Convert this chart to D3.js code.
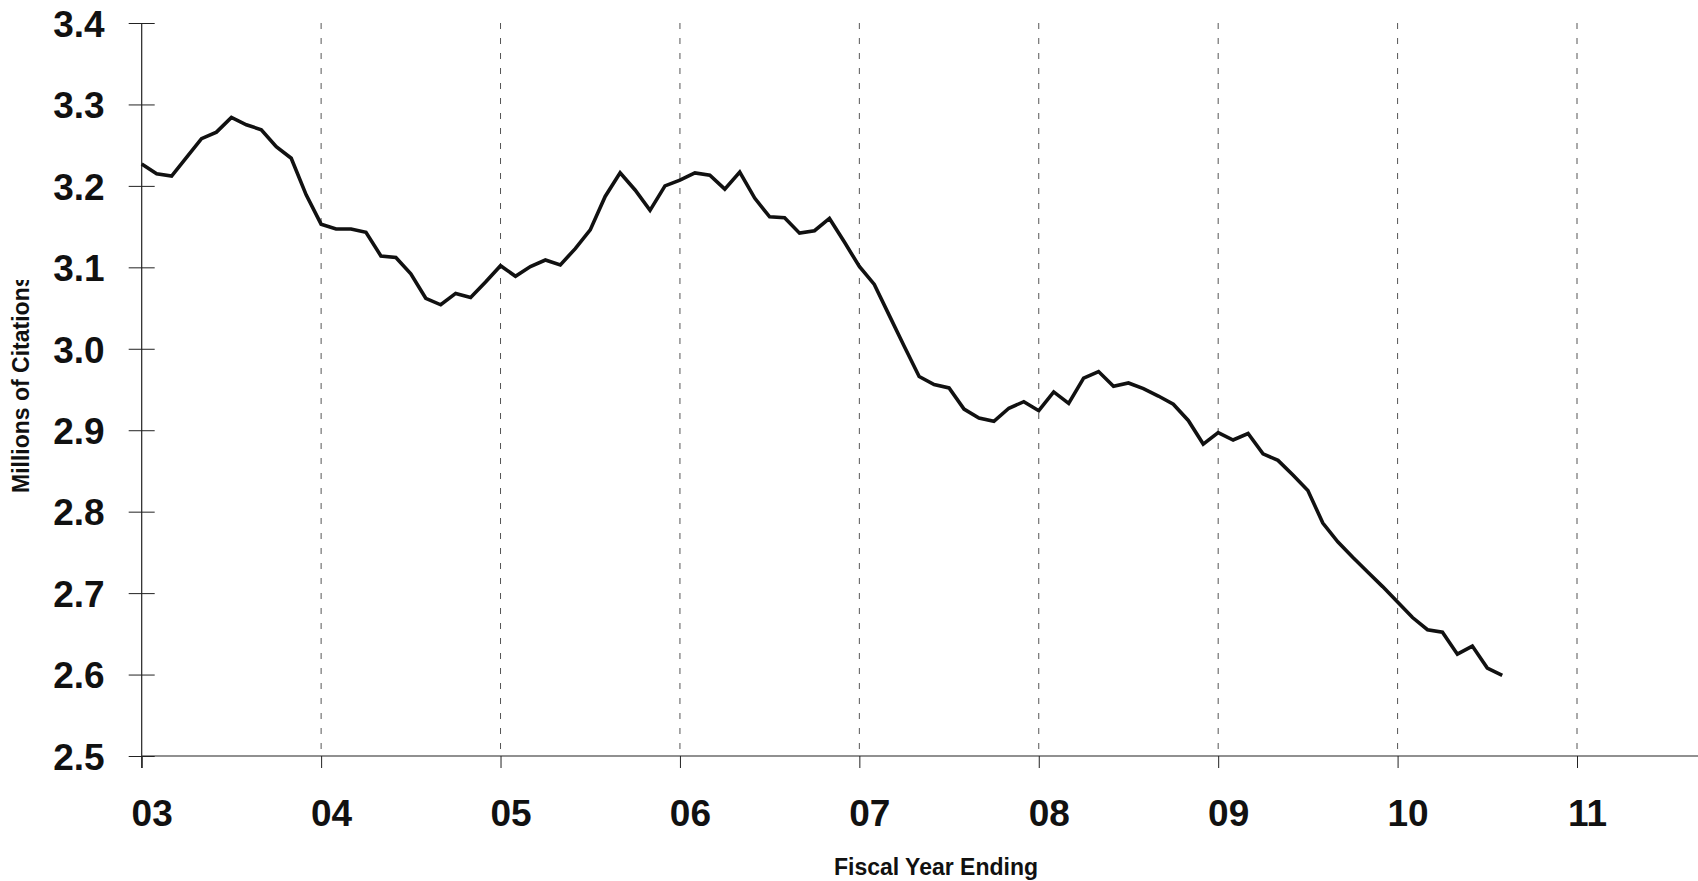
<!DOCTYPE html>
<html>
<head>
<meta charset="utf-8">
<script src="https://cdn.jsdelivr.net/npm/d3@7"></script>
<style>
  html, body { margin: 0; padding: 0; background: #fff; }
  svg { display: block; }
  text { font-family: "Liberation Sans", Arial, sans-serif; font-weight: bold; fill: #111; }
</style>
</head>
<body>
<svg id="chart" width="1698" height="881"></svg>
<script>
// ---- data (monthly, starting at fiscal year 03) ----
const startYear = 3;
const citations = [
  3.227, 3.215, 3.212, 3.235, 3.258, 3.266, 3.284, 3.275, 3.269, 3.248, 3.234, 3.189,
  3.153, 3.147, 3.147, 3.143, 3.114, 3.112, 3.092, 3.062, 3.054, 3.068, 3.063, 3.082,
  3.102, 3.089, 3.101, 3.109, 3.103, 3.123, 3.146, 3.187, 3.216, 3.195, 3.170, 3.200,
  3.207, 3.216, 3.213, 3.196, 3.217, 3.185, 3.162, 3.161, 3.142, 3.145, 3.160, 3.131,
  3.101, 3.079, 3.041, 3.003, 2.966, 2.956, 2.952, 2.926, 2.915, 2.911, 2.927, 2.935,
  2.924, 2.947, 2.933, 2.964, 2.972, 2.954, 2.958, 2.951, 2.942, 2.932, 2.912, 2.883,
  2.897, 2.888, 2.896, 2.871, 2.863, 2.845, 2.826, 2.786, 2.763, 2.744, 2.726, 2.708,
  2.689, 2.670, 2.655, 2.652, 2.625, 2.635, 2.608, 2.599
];
const xTicks = [3, 4, 5, 6, 7, 8, 9, 10, 11];
const xTickLabels = ["03", "04", "05", "06", "07", "08", "09", "10", "11"];
const yTicks = [2.5, 2.6, 2.7, 2.8, 2.9, 3.0, 3.1, 3.2, 3.3, 3.4];
const xTitle = "Fiscal Year Ending";
const yTitle = "Millions of Citations";

// ---- layout ----
const W = 1698, H = 881;
const svg = d3.select("#chart");
const x = d3.scaleLinear().domain([3, 11]).range([141.7, 1577]);
const y = d3.scaleLinear().domain([2.5, 3.4]).range([756, 23]);

const points = citations.map((v, i) => ({ t: startYear + i / 12, v }));

// vertical dashed grid lines
svg.append("g")
  .selectAll("line")
  .data(xTicks.filter(d => d > 3))
  .join("line")
  .attr("x1", d => x(d)).attr("x2", d => x(d))
  .attr("y1", y(3.4)).attr("y2", y(2.5))
  .attr("stroke", "#555")
  .attr("stroke-width", 1)
  .attr("stroke-dasharray", "6,9");

// x axis
const xAxis = svg.append("g")
  .attr("transform", `translate(0,${y(2.5)})`)
  .call(d3.axisBottom(x)
    .tickValues(xTicks)
    .tickFormat((d, i) => xTickLabels[i])
    .tickSizeInner(12)
    .tickSizeOuter(0));
xAxis.select(".domain").remove();
xAxis.selectAll(".tick line").attr("stroke", "#222").attr("stroke-width", 1);
xAxis.selectAll(".tick text")
  .attr("y", 70).attr("dy", 0).attr("dx", 10)
  .style("font-size", "37px");
xAxis.append("line")
  .attr("x1", x(3)).attr("x2", W)
  .attr("y1", 0).attr("y2", 0)
  .attr("stroke", "#222").attr("stroke-width", 1.2);

// y axis
const yAxis = svg.append("g")
  .attr("transform", `translate(${x(3)},0)`)
  .call(d3.axisLeft(y)
    .tickValues(yTicks)
    .tickFormat(d3.format(".1f"))
    .tickSizeInner(13)
    .tickSizeOuter(0));
yAxis.select(".domain").remove();
yAxis.selectAll(".tick line").attr("x1", 13).attr("x2", -13).attr("stroke", "#222").attr("stroke-width", 1);
yAxis.selectAll(".tick text")
  .attr("x", -37).attr("dy", "0.36em")
  .style("font-size", "37px");
yAxis.append("line")
  .attr("x1", 0).attr("x2", 0)
  .attr("y1", y(3.4)).attr("y2", y(2.5) + 12)
  .attr("stroke", "#222").attr("stroke-width", 1.2);

// data line
svg.append("path")
  .datum(points)
  .attr("fill", "none")
  .attr("stroke", "#111")
  .attr("stroke-width", 3.6)
  .attr("stroke-linejoin", "miter")
  .attr("d", d3.line().x(d => x(d.t)).y(d => y(d.v)));

// axis titles
svg.append("text")
  .attr("x", 936).attr("y", 875)
  .attr("text-anchor", "middle")
  .style("font-size", "23px")
  .text(xTitle);

svg.append("clipPath").attr("id", "ytclip")
  .append("rect").attr("x", 0).attr("y", 280).attr("width", 60).attr("height", 260);
svg.append("g").attr("clip-path", "url(#ytclip)")
  .append("text")
  .attr("transform", "translate(29,493) rotate(-90)")
  .attr("text-anchor", "start")
  .style("font-size", "23px")
  .text(yTitle);
</script>
</body>
</html>
